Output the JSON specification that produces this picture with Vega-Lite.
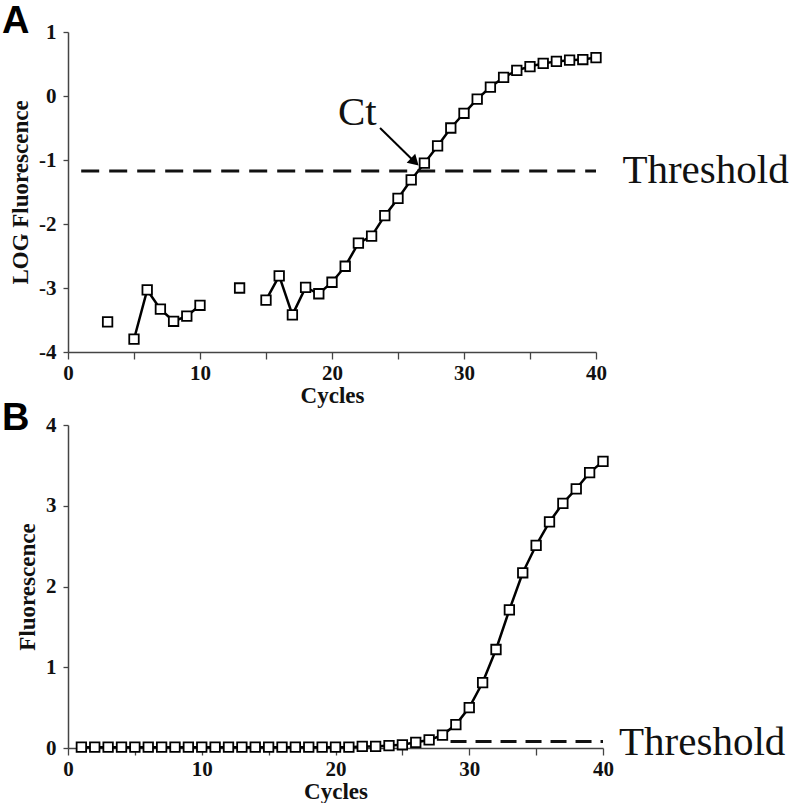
{
  "$schema": "https://vega.github.io/schema/vega-lite/v6.json",
  "background": "white",
  "padding": {"left": 2, "top": 3, "right": 0, "bottom": 0},
  "spacing": -7,
  "config": {
    "view": {"stroke": null},
    "font": "Liberation Serif",
    "axis": {
      "grid": false,
      "domainColor": "#444",
      "domainWidth": 1.5,
      "tickColor": "#444",
      "tickWidth": 1.3,
      "labelFont": "Liberation Serif",
      "labelFontWeight": "bold",
      "labelFontSize": 21,
      "labelColor": "#111",
      "titleFont": "Liberation Serif",
      "titleFontWeight": "bold",
      "titleFontSize": 23,
      "titleColor": "#111"
    },
    "axisX": {"tickSize": 7, "labelPadding": 3, "titlePadding": 1, "labelFlush": false},
    "axisY": {"tickSize": 5, "labelPadding": 7, "titlePadding": 6}
  },
  "datasets": {
    "log": [
      {"cycle": 3, "logf": -3.53},
      {"cycle": 4, "logf": null},
      {"cycle": 5, "logf": -3.8},
      {"cycle": 6, "logf": -3.03},
      {"cycle": 7, "logf": -3.33},
      {"cycle": 8, "logf": -3.52},
      {"cycle": 9, "logf": -3.44},
      {"cycle": 10, "logf": -3.27},
      {"cycle": 11, "logf": null},
      {"cycle": 12, "logf": null},
      {"cycle": 13, "logf": -3.0},
      {"cycle": 14, "logf": null},
      {"cycle": 15, "logf": -3.19},
      {"cycle": 16, "logf": -2.81},
      {"cycle": 17, "logf": -3.42},
      {"cycle": 18, "logf": -2.99},
      {"cycle": 19, "logf": -3.09},
      {"cycle": 20, "logf": -2.91},
      {"cycle": 21, "logf": -2.66},
      {"cycle": 22, "logf": -2.3},
      {"cycle": 23, "logf": -2.19},
      {"cycle": 24, "logf": -1.87},
      {"cycle": 25, "logf": -1.6},
      {"cycle": 26, "logf": -1.31},
      {"cycle": 27, "logf": -1.05},
      {"cycle": 28, "logf": -0.78},
      {"cycle": 29, "logf": -0.5},
      {"cycle": 30, "logf": -0.27},
      {"cycle": 31, "logf": -0.05},
      {"cycle": 32, "logf": 0.14},
      {"cycle": 33, "logf": 0.29},
      {"cycle": 34, "logf": 0.4},
      {"cycle": 35, "logf": 0.46},
      {"cycle": 36, "logf": 0.51},
      {"cycle": 37, "logf": 0.54},
      {"cycle": 38, "logf": 0.56},
      {"cycle": 39, "logf": 0.57},
      {"cycle": 40, "logf": 0.6}
    ],
    "lin": [
      {"cycle": 1, "fluor": 0.01},
      {"cycle": 2, "fluor": 0.01},
      {"cycle": 3, "fluor": 0.01},
      {"cycle": 4, "fluor": 0.01},
      {"cycle": 5, "fluor": 0.01},
      {"cycle": 6, "fluor": 0.01},
      {"cycle": 7, "fluor": 0.01},
      {"cycle": 8, "fluor": 0.01},
      {"cycle": 9, "fluor": 0.01},
      {"cycle": 10, "fluor": 0.01},
      {"cycle": 11, "fluor": 0.01},
      {"cycle": 12, "fluor": 0.01},
      {"cycle": 13, "fluor": 0.01},
      {"cycle": 14, "fluor": 0.01},
      {"cycle": 15, "fluor": 0.01},
      {"cycle": 16, "fluor": 0.01},
      {"cycle": 17, "fluor": 0.01},
      {"cycle": 18, "fluor": 0.01},
      {"cycle": 19, "fluor": 0.01},
      {"cycle": 20, "fluor": 0.01},
      {"cycle": 21, "fluor": 0.01},
      {"cycle": 22, "fluor": 0.02},
      {"cycle": 23, "fluor": 0.02},
      {"cycle": 24, "fluor": 0.03},
      {"cycle": 25, "fluor": 0.04},
      {"cycle": 26, "fluor": 0.07},
      {"cycle": 27, "fluor": 0.1},
      {"cycle": 28, "fluor": 0.16},
      {"cycle": 29, "fluor": 0.29},
      {"cycle": 30, "fluor": 0.5},
      {"cycle": 31, "fluor": 0.81},
      {"cycle": 32, "fluor": 1.22},
      {"cycle": 33, "fluor": 1.71},
      {"cycle": 34, "fluor": 2.17},
      {"cycle": 35, "fluor": 2.51},
      {"cycle": 36, "fluor": 2.8},
      {"cycle": 37, "fluor": 3.03},
      {"cycle": 38, "fluor": 3.21},
      {"cycle": 39, "fluor": 3.41},
      {"cycle": 40, "fluor": 3.55}
    ]
  },
  "vconcat": [
    {
      "width": 528,
      "height": 320,
      "title": {"text": "A", "anchor": "start", "frame": "group", "dx": -66, "offset": -20, "font": "Liberation Sans", "fontWeight": "bold", "fontSize": 38, "color": "#000"},
      "layer": [
        {
          "data": {"name": "log"},
          "mark": {"type": "line", "color": "#000", "strokeWidth": 2.5, "invalid": "break-paths-filter-domains"},
          "encoding": {
            "x": {"field": "cycle", "type": "quantitative", "scale": {"domain": [0, 40], "nice": false},
                  "axis": {"title": "Cycles", "values": [0, 5, 10, 15, 20, 25, 30, 35, 40], "labelExpr": "datum.value % 10 == 0 ? datum.label : ''"}},
            "y": {"field": "logf", "type": "quantitative", "scale": {"domain": [-4, 1], "nice": false, "zero": false},
                  "axis": {"title": "LOG Fluorescence", "values": [-4, -3, -2, -1, 0, 1], "labelExpr": "datum.value < 0 ? '-' + abs(datum.value) : '' + datum.value"}}
          }
        },
        {
          "data": {"values": [{}]},
          "mark": {"type": "rule", "color": "#111", "strokeWidth": 3, "strokeDash": [18, 10]},
          "encoding": {"x": {"datum": 1}, "x2": {"datum": 40}, "y": {"datum": -1.17}}
        },
        {
          "data": {"name": "log"},
          "mark": {"type": "point", "shape": "square", "size": 90, "filled": true, "fill": "white", "stroke": "#000", "strokeWidth": 1.8, "opacity": 1},
          "encoding": {"x": {"field": "cycle", "type": "quantitative"}, "y": {"field": "logf", "type": "quantitative"}}
        },
        {
          "data": {"values": [{}]},
          "mark": {"type": "rule", "color": "#000", "strokeWidth": 2},
          "encoding": {"x": {"datum": 23.64}, "y": {"datum": -0.5}, "x2": {"datum": 26.27}, "y2": {"datum": -1.03}}
        },
        {
          "data": {"values": [{}]},
          "mark": {"type": "point", "shape": "triangle-right", "size": 150, "filled": true, "color": "#000", "opacity": 1, "angle": 44},
          "encoding": {"x": {"datum": 26.27}, "y": {"datum": -1.03}}
        },
        {
          "data": {"values": [{"label": "Ct"}]},
          "mark": {"type": "text", "align": "left", "baseline": "alphabetic", "fontSize": 41, "font": "Liberation Serif", "color": "#111"},
          "encoding": {"x": {"datum": 20.45}, "y": {"datum": -0.46}, "text": {"field": "label"}}
        },
        {
          "data": {"values": [{"label": "Threshold"}]},
          "mark": {"type": "text", "align": "left", "baseline": "alphabetic", "fontSize": 41, "font": "Liberation Serif", "color": "#111"},
          "encoding": {"x": {"datum": 42.0}, "y": {"datum": -1.36}, "text": {"field": "label"}}
        }
      ]
    },
    {
      "width": 535,
      "height": 323,
      "title": {"text": "B", "anchor": "start", "frame": "group", "dx": -66, "offset": -24, "font": "Liberation Sans", "fontWeight": "bold", "fontSize": 38, "color": "#000"},
      "layer": [
        {
          "data": {"name": "lin"},
          "mark": {"type": "line", "color": "#000", "strokeWidth": 2.5},
          "encoding": {
            "x": {"field": "cycle", "type": "quantitative", "scale": {"domain": [0, 40], "nice": false},
                  "axis": {"title": "Cycles", "values": [0, 5, 10, 15, 20, 25, 30, 35, 40], "labelExpr": "datum.value % 10 == 0 ? datum.label : ''"}},
            "y": {"field": "fluor", "type": "quantitative", "scale": {"domain": [0, 4], "nice": false},
                  "axis": {"title": "Fluorescence", "values": [0, 1, 2, 3, 4], "format": "d"}}
          }
        },
        {
          "data": {"values": [{}]},
          "mark": {"type": "rule", "color": "#111", "strokeWidth": 3, "strokeDash": [16, 9]},
          "encoding": {"x": {"datum": 28.6}, "x2": {"datum": 40}, "y": {"datum": 0.08}}
        },
        {
          "data": {"name": "lin"},
          "mark": {"type": "point", "shape": "square", "size": 90, "filled": true, "fill": "white", "stroke": "#000", "strokeWidth": 1.8, "opacity": 1},
          "encoding": {"x": {"field": "cycle", "type": "quantitative"}, "y": {"field": "fluor", "type": "quantitative"}}
        },
        {
          "data": {"values": [{"label": "Threshold"}]},
          "mark": {"type": "text", "align": "left", "baseline": "alphabetic", "fontSize": 41, "font": "Liberation Serif", "color": "#111"},
          "encoding": {"x": {"datum": 41.2}, "y": {"datum": -0.09}, "text": {"field": "label"}}
        }
      ]
    }
  ],
  "resolve": {"scale": {"x": "independent", "y": "independent"}}
}
